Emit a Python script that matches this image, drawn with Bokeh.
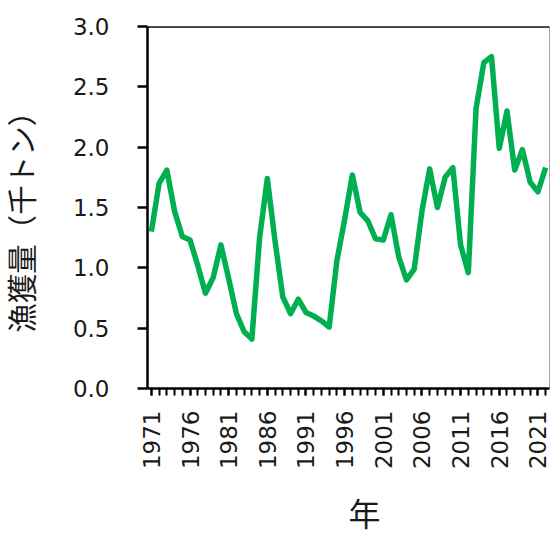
import math
from bokeh.plotting import figure
from bokeh.models import FixedTicker, Range1d, Span, NumeralTickFormatter
from bokeh.embed import file_html
from bokeh.resources import INLINE

years = list(range(1971, 2023))
catch = [1.30, 1.70, 1.81, 1.47, 1.26, 1.23, 1.02, 0.79, 0.92, 1.19,
         0.91, 0.62, 0.47, 0.41, 1.25, 1.74, 1.22, 0.76, 0.62, 0.74,
         0.63, 0.60, 0.56, 0.51, 1.06, 1.40, 1.77, 1.46, 1.39, 1.24,
         1.23, 1.44, 1.09, 0.90, 0.99, 1.47, 1.82, 1.50, 1.75, 1.83,
         1.19, 0.96, 2.32, 2.70, 2.75, 1.99, 2.30, 1.81, 1.98, 1.71,
         1.63, 1.83]
x_tick_labels = [1971, 1976, 1981, 1986, 1991, 1996, 2001, 2006, 2011, 2016, 2021]
y_ticks = [0.0, 0.5, 1.0, 1.5, 2.0, 2.5, 3.0]
x_title = "年"
y_title = "漁獲量（千トン）"

p = figure(width=550, height=539, output_backend="svg", toolbar_location=None,
           x_range=Range1d(1970.5, 2022.5), y_range=Range1d(0, 3.0))
p.min_border_left = 147
p.min_border_top = 26
p.min_border_right = 1
p.min_border_bottom = 151
p.background_fill_color = "white"
p.border_fill_color = "white"
p.outline_line_color = "#a6a6a6"
p.outline_line_width = 1
p.xgrid.visible = False
p.ygrid.visible = False

p.line(years, catch, line_color="#00B050", line_width=5.5, line_join="round")

p.add_layout(Span(location=3.0, dimension="width", line_color="black", line_width=2.5))

font = "DejaVu Sans"
cjk = "DejaVu Sans, Noto Sans CJK JP"

xa = p.xaxis[0]
xa.ticker = FixedTicker(ticks=x_tick_labels, minor_ticks=years)
xa.axis_line_color = "black"
xa.axis_line_width = 2.5
xa.major_tick_line_width = 2
xa.minor_tick_line_width = 2
xa.major_tick_line_color = "black"
xa.minor_tick_line_color = "black"
xa.major_tick_in = 0
xa.major_tick_out = 7
xa.minor_tick_in = 0
xa.minor_tick_out = 7
xa.major_label_orientation = math.pi / 2
xa.major_label_text_font = font
xa.major_label_text_font_size = "23px"
xa.major_label_text_color = "#1a1a1a"
xa.major_label_standoff = 15
xa.axis_label = "\u3000" + x_title
xa.axis_label_text_font = cjk
xa.axis_label_text_font_size = "32px"
xa.axis_label_text_font_style = "normal"
xa.axis_label_text_color = "#1a1a1a"
xa.axis_label_standoff = 24

ya = p.yaxis[0]
ya.ticker = FixedTicker(ticks=y_ticks)
ya.formatter = NumeralTickFormatter(format="0.0")
ya.axis_line_color = "black"
ya.axis_line_width = 2.5
ya.major_tick_line_width = 2.5
ya.major_tick_line_color = "black"
ya.major_tick_in = 0
ya.major_tick_out = 10
ya.minor_tick_line_color = None
ya.major_label_text_font = font
ya.major_label_text_font_size = "23px"
ya.major_label_text_color = "#1a1a1a"
ya.major_label_standoff = 28
ya.axis_label = y_title + "\u2002"
ya.axis_label_text_font = cjk
ya.axis_label_text_font_size = "29.5px"
ya.axis_label_text_font_style = "normal"
ya.axis_label_text_color = "#1a1a1a"
ya.axis_label_standoff = 30

open("out.html", "w").write(file_html(p, INLINE))
